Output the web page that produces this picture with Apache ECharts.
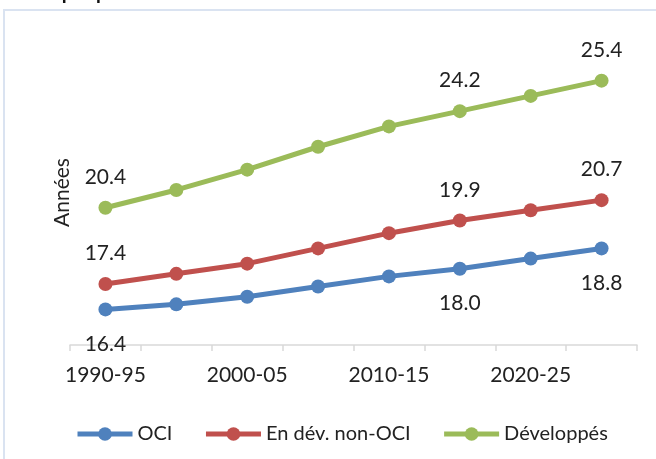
<!DOCTYPE html>
<html>
<head>
<meta charset="utf-8">
<script src="https://cdn.jsdelivr.net/npm/echarts@6/dist/echarts.min.js"></script>
<style>
 html, body { margin: 0; padding: 0; background: #fff; }
 #chart { width: 656px; height: 459px; }
</style>
</head>
<body>
<div id="chart"></div>
<script>
// periods on the x axis
var periods = ['1990-95', '1995-00', '2000-05', '2005-10', '2010-15', '2015-20', '2020-25', '2025-30'];
// median age (années)
var oci = [16.4, 16.6, 16.9, 17.3, 17.7, 18.0, 18.4, 18.8];
var nonOci = [17.4, 17.8, 18.2, 18.8, 19.4, 19.9, 20.3, 20.7];
var developpes = [20.4, 21.1, 21.9, 22.8, 23.6, 24.2, 24.8, 25.4];
// points that carry a value label
var labelled = [0, 5, 7];

var font = 'Lato';

function withLabels(values) {
 return values.map(function (v, i) {
  return labelled.indexOf(i) >= 0 ? { value: v, label: { show: true } } : v;
 });
}

function makeSeries(name, values, color, pos, dist) {
 return {
  name: name,
  type: 'line',
  data: withLabels(values),
  symbol: 'circle',
  symbolSize: 14,
  lineStyle: { width: 5, color: color },
  itemStyle: { color: color },
  label: {
   show: false,
   position: pos,
   distance: dist,
   color: '#222',
   fontFamily: font,
   fontSize: 21,
   formatter: function (p) { return p.value.toFixed(1); }
  },
  emphasis: { disabled: true }
 };
}

var myChart = echarts.init(document.getElementById('chart'));

var option = {
 animation: false,
 textStyle: { fontFamily: font },
 graphic: [{
  type: 'rect',
  shape: { x: 4, y: 10, width: 700, height: 500 },
  style: { fill: 'none', stroke: '#dae3f1', lineWidth: 2 },
  silent: true
 }, {
  type: 'text',
  left: 30,
  top: -17,
  style: { text: 'Graphique 2.7 :', fill: '#111', font: 'bold 20px Lato' },
  silent: true
 }],
 grid: { left: 70, right: 19, top: 40, bottom: 114 },
 legend: {
  left: 70,
  top: 419,
  itemWidth: 55,
  itemHeight: 17,
  itemGap: 31,
  lineStyle: { width: 5 },
  textStyle: { color: '#222', fontSize: 20, fontFamily: font },
  data: ['OCI', 'En dév. non-OCI', 'Développés']
 },
 xAxis: {
  type: 'category',
  data: periods,
  boundaryGap: true,
  axisLine: { lineStyle: { color: '#d9d9d9', width: 1.5 } },
  axisTick: { show: true, interval: 0, length: 6, lineStyle: { color: '#d9d9d9', width: 1.5 } },
  axisLabel: { interval: 1, color: '#222', fontSize: 21, fontFamily: font, margin: 20 }
 },
 yAxis: {
  type: 'value',
  min: 15,
  max: 27,
  name: 'Années',
  nameLocation: 'middle',
  nameRotate: 90,
  nameGap: -3,
  nameTextStyle: { color: '#222', fontSize: 21, fontFamily: font },
  axisLine: { show: false },
  axisTick: { show: false },
  axisLabel: { show: false },
  splitLine: { show: false }
 },
 series: [
  makeSeries('OCI', oci, '#4f81bd', 'bottom', 17),
  makeSeries('En dév. non-OCI', nonOci, '#c0504d', 'top', 13),
  makeSeries('Développés', developpes, '#9bbb59', 'top', 13)
 ]
};

myChart.setOption(option);
</script>
</body>
</html>
